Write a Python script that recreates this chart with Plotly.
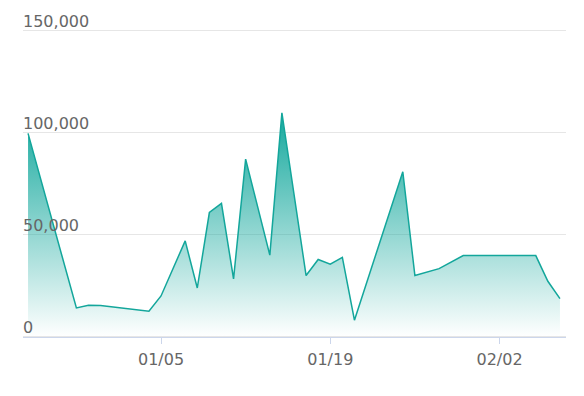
import plotly.graph_objects as go

dates = ["2018-12-25", "2018-12-29", "2018-12-30", "2018-12-31", "2019-01-04",
         "2019-01-05", "2019-01-07", "2019-01-08", "2019-01-09", "2019-01-10",
         "2019-01-11", "2019-01-12", "2019-01-14", "2019-01-15", "2019-01-17",
         "2019-01-18", "2019-01-19", "2019-01-20", "2019-01-21", "2019-01-25",
         "2019-01-26", "2019-01-28", "2019-01-30", "2019-02-05", "2019-02-06",
         "2019-02-07"]
values = [99800, 14200, 15500, 15400, 12600,
          20100, 47100, 24000, 61000, 65500,
          28500, 87200, 40100, 109900, 30100,
          38000, 35700, 39000, 8200, 81000,
          30100, 33500, 39900, 39900, 27300,
          18800]

x_ticks = ["2019-01-05", "2019-01-19", "2019-02-02"]
x_tick_labels = ["01/05", "01/19", "02/02"]
y_ticks = [0, 50000, 100000, 150000]
y_tick_labels = ["0", "50,000", "100,000", "150,000"]

teal = "20,168,157"

fig = go.Figure()
fig.add_trace(go.Scatter(
    x=dates, y=values, mode="lines",
    line=dict(color="#13a69b", width=1.5),
    fill="tozeroy",
    fillgradient=dict(type="vertical",
                      colorscale=[[0, f"rgba({teal},0.0)"], [1, f"rgba({teal},1)"]],
                      start=0, stop=110000),
    hoverinfo="x+y",
    showlegend=False,
))

fig.update_layout(
    width=576, height=388,
    margin=dict(l=15, r=18, t=0, b=57, pad=0),
    paper_bgcolor="white", plot_bgcolor="white",
    font=dict(family="DejaVu Sans", size=16, color="#666666"),
    showlegend=False,
)
fig.update_xaxes(
    type="date", automargin=False,
    anchor="free", position=1000 / 162255,
    range=["2018-12-24 14:00", "2019-02-07 12:00"],
    tickvals=x_ticks, ticktext=x_tick_labels,
    ticks="outside", ticklen=6, tickcolor="#ccd6eb", tickwidth=1,
    showline=True, linecolor="#ccd6eb", linewidth=1,
    showgrid=False, zeroline=False,
    tickfont=dict(family="DejaVu Sans", size=16, color="#666666"),
    ticklabelstandoff=2,
)
fig.update_yaxes(
    range=[-1000, 161255], automargin=False,
    tickvals=y_ticks, ticktext=y_tick_labels,
    ticklabelposition="inside top",
    ticklabelstandoff=-3,
    ticklabelshift=2,
    showgrid=True, gridcolor="#e6e6e6", gridwidth=1,
    zeroline=False, showline=False, ticks="",
    tickfont=dict(family="DejaVu Sans", size=16, color="#666666"),
)

fig.write_html("out.html")
